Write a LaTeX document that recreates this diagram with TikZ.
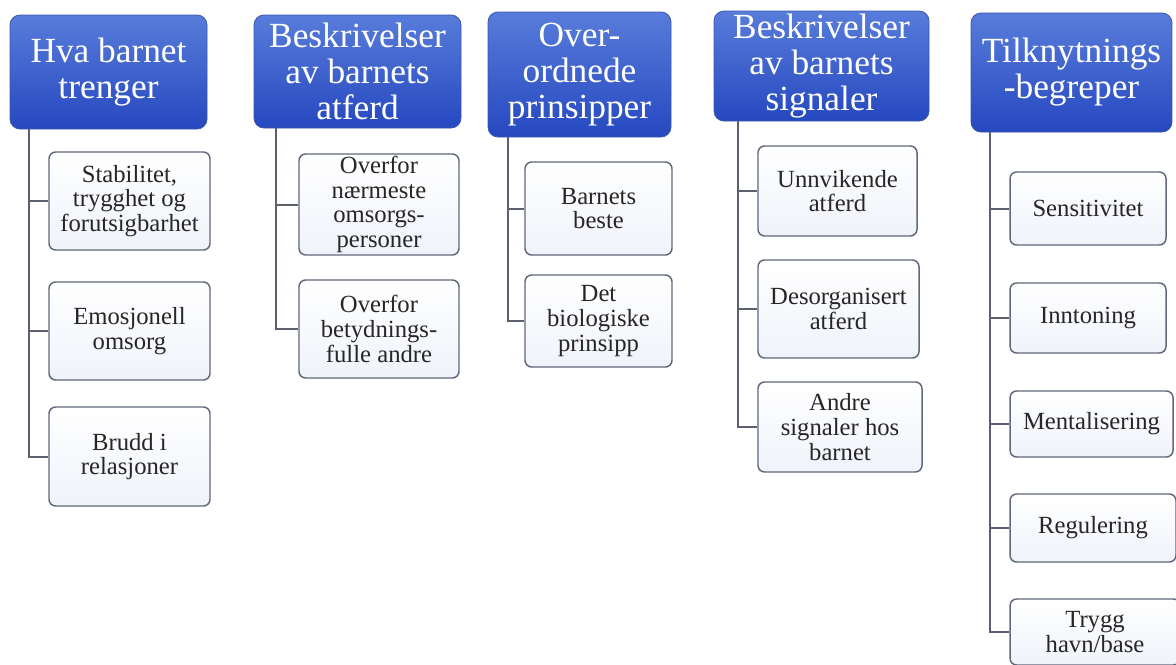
\documentclass[tikz,border=0pt]{standalone}
\usepackage{fontspec}
\setmainfont{Liberation Serif}

\definecolor{headtop}{RGB}{88,124,218}
\definecolor{headbot}{RGB}{38,72,192}
\definecolor{headline}{RGB}{60,85,170}
\definecolor{boxline}{RGB}{96,104,122}
\definecolor{linkgray}{RGB}{92,96,110}
\definecolor{boxfill}{RGB}{240,243,250}
\definecolor{inktext}{RGB}{38,38,38}

\tikzset{every picture/.style={line width=0.75pt}}
\tikzset{
  boxdim/.style 2 args={minimum width=#1*0.75pt, minimum height=#2*0.75pt},
  headbox/.style={rounded corners=7.5pt, top color=headtop, bottom color=headbot,
    draw=headline, line width=0.6pt, text=white, align=center, inner sep=0pt,
    font=\fontsize{26.5pt}{27pt}\selectfont},
  itembox/.style={rounded corners=5pt, top color=white, bottom color=boxfill,
    draw=boxline, line width=1.1pt, text=inktext, align=center, inner sep=0pt,
    font=\fontsize{18.5pt}{18.5pt}\selectfont},
  link/.style={draw=linkgray, line width=1.5pt},
}

\begin{document}
\begin{tikzpicture}[x=0.75pt,y=0.75pt,yscale=-1,xscale=1]
\useasboundingbox (0,0) rectangle (1176,664);
\clip (0,0) rectangle (1176,664);

%Column 1
\node [headbox, boxdim={197}{114}] (h1) at (108.5,72) {Hva barnet\\trenger};
\node [itembox, boxdim={161}{98}] (c1a) at (129.5,201) {Stabilitet,\\trygghet og\\forutsigbarhet};
\node [itembox, boxdim={161}{98}] (c1b) at (129.5,331) {Emosjonell\\omsorg};
\node [itembox, boxdim={161}{99}] (c1c) at (129.5,456.5) {Brudd i\\relasjoner};
\foreach \c in {c1a,c1b,c1c}
  \draw [link] (h1.south west) ++(19,0) |- (\c.west);

%Column 2
\node [headbox, boxdim={207}{113}] (h2) at (357.5,71.5) {Beskrivelser\\av barnets\\atferd};
\node [itembox, boxdim={160}{101}] (c2a) at (379,204.5) {Overfor\\nærmeste\\omsorgs-\\personer};
\node [itembox, boxdim={160}{98}] (c2b) at (379,329) {Overfor\\betydnings-\\fulle andre};
\foreach \c in {c2a,c2b}
  \draw [link] (h2.south west) ++(22,0) |- (\c.west);

%Column 3
\node [headbox, boxdim={183}{125}] (h3) at (579.5,74.5) {Over-\\ordnede\\prinsipper};
\node [itembox, boxdim={147}{93}] (c3a) at (598.5,208.5) {Barnets\\beste};
\node [itembox, boxdim={147}{92}] (c3b) at (598.5,321) {Det\\biologiske\\prinsipp};
\foreach \c in {c3a,c3b}
  \draw [link] (h3.south west) ++(20,0) |- (\c.west);

%Column 4
\node [headbox, boxdim={215}{110}] (h4) at (821.5,66) {Beskrivelser\\av barnets\\signaler};
\node [itembox, boxdim={159}{90}] (c4a) at (837.5,191) {Unnvikende\\atferd};
\node [itembox, boxdim={161}{98}] (c4b) at (838.5,309) {Desorganisert\\atferd};
\node [itembox, boxdim={164}{90}] (c4c) at (840,427) {Andre\\signaler hos\\barnet};
\foreach \c in {c4a,c4b,c4c}
  \draw [link] (h4.south west) ++(24,0) |- (\c.west);

%Column 5
\node [headbox, boxdim={201}{119}] (h5) at (1071.5,72.5) {Tilknytnings\\-begreper};
\node [itembox, boxdim={156}{73}] (c5a) at (1088,208.5) {Sensitivitet};
\node [itembox, boxdim={156}{70}] (c5b) at (1088,318) {Inntoning};
\node [itembox, boxdim={163}{66}] (c5c) at (1091.5,424) {Mentalisering};
\node [itembox, boxdim={166}{68}] (c5d) at (1093,528) {Regulering};
\node [itembox, boxdim={170}{66}] (c5e) at (1095,632) {Trygg\\havn/base};
\foreach \c in {c5a,c5b,c5c,c5d,c5e}
  \draw [link] (h5.south west) ++(19,0) |- (\c.west);
\end{tikzpicture}
\end{document}
